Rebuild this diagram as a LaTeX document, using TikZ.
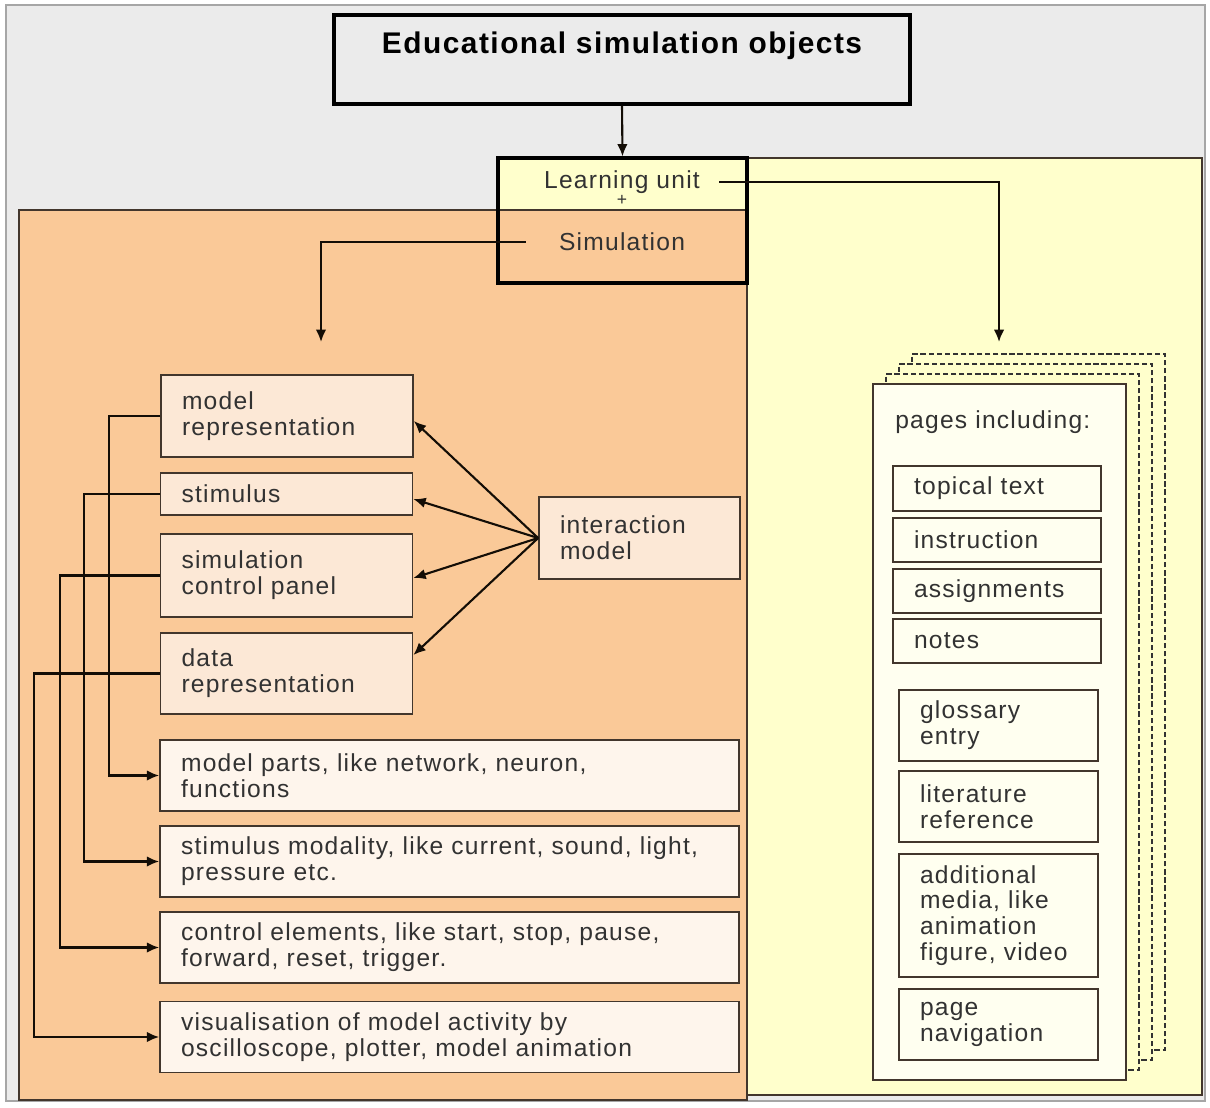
\documentclass[tikz,border=0pt]{standalone}
\usepackage{fontspec}
\setmainfont{Liberation Sans}[LetterSpace=5]
\usetikzlibrary{arrows.meta}

\definecolor{framegray}{RGB}{235,235,235}
\definecolor{simorange}{RGB}{250,201,152}
\definecolor{unityellow}{RGB}{255,255,204}
\definecolor{boxpeach}{RGB}{252,232,214}
\definecolor{boxcream}{RGB}{254,245,236}
\definecolor{pagecream}{RGB}{255,255,240}
\definecolor{edgebrown}{RGB}{66,54,44}
\definecolor{inkgray}{RGB}{50,50,50}

\tikzset{
    item/.style={draw=edgebrown, line width=1pt, inner xsep=0.42cm, inner ysep=0pt,
        align=left, text=inkgray, font=\fontsize{14}{14.7}\selectfont},
    leftbox/.style={item, fill=boxpeach, text width=4.2cm},
    widebox/.style={item, fill=boxcream, text width=10.74cm, minimum height=1.42cm},
    pagebox/.style={item, fill=pagecream, text width=#1},
    backpage/.style={draw=black!80, dash pattern=on 3pt off 1.6pt, line width=1.1pt,
        fill=unityellow, minimum width=5.06cm, minimum height=13.92cm},
    link/.style={draw=black!90!brown, line width=1.2pt, -{Latex[length=7pt,width=6pt]}},
    plain/.style={text=inkgray, font=\fontsize{14}{14.7}\selectfont}
}

\begin{document}
\begin{tikzpicture}[x=0.02cm, y=-0.02cm]
            \useasboundingbox (0,0) rectangle (1210,1107);

            \draw[gray!70, fill=framegray, line width=1.5pt] (6,5) rectangle (1205,1101);
            \draw[edgebrown, fill=unityellow, line width=0.8pt] (498,158) rectangle (1202,1095);
            \draw[edgebrown, fill=simorange, line width=0.8pt] (19,210) rectangle (747,1100);

            \node[draw=black, line width=1.8pt, fill=framegray, minimum width=11.52cm, inner ysep=0pt,
                text height=0.76cm, text depth=1.02cm, text=black,
                font=\fontsize{17}{20}\selectfont\bfseries] (title) at (622,59.5) {Educational simulation objects};

            \node[draw=black, line width=1.8pt, minimum width=4.98cm, minimum height=2.5cm] (unit) at (622.5,220.5) {};
            \node[plain] (learn) at (622,182) {Learning unit};
            \node[plain, font=\fontsize{10}{12}\selectfont] (plus) at (622,200) {+};
            \node[plain] (sim) at (622,242) {Simulation};

            \node[leftbox, minimum height=1.64cm] (modrep) at (287,416) {model\\representation};
            \node[leftbox, minimum height=0.84cm] (stim) at (286.5,494) {stimulus};
            \node[leftbox, minimum height=1.66cm] (ctrl) at (286.5,575.5) {simulation\\control panel};
            \node[leftbox, minimum height=1.62cm] (datarep) at (286.5,673.5) {data\\representation};
            \node[item, fill=boxpeach, text width=3.18cm, minimum height=1.64cm] (inter) at (639.5,538) {interaction\\model};

            \node[widebox] (parts) at (449.5,775.5) {model parts, like network, neuron,\\functions};
            \node[widebox] (modal) at (449.5,861.5) {stimulus modality, like current, sound, light,\\pressure etc.};
            \node[widebox] (elem) at (449.5,947.5) {control elements, like start, stop, pause,\\forward, reset, trigger.};
            \node[widebox] (visu) at (449.5,1037) {visualisation of model activity by\\oscilloscope, plotter, model animation};

            \node[backpage] (page3) at (1038.5,702) {};
            \node[backpage] (page2) at (1025.5,712) {};
            \node[backpage] (page1) at (1012.5,722) {};
            \node[draw=edgebrown, line width=1pt, fill=pagecream, minimum width=5.06cm, minimum height=13.92cm] (pages) at (999.5,732) {};
            \node[plain, anchor=west, inner sep=0pt] (pagelist) at (895,422) {pages including:};

            \node[pagebox=3.32cm, minimum height=0.9cm] (topical) at (997,488.5) {topical text};
            \node[pagebox=3.32cm, minimum height=0.88cm] (instr) at (997,540) {instruction};
            \node[pagebox=3.32cm, minimum height=0.88cm] (assign) at (997,591) {assignments};
            \node[pagebox=3.32cm, minimum height=0.88cm] (notes) at (997,641) {notes};
            \node[pagebox=3.14cm, minimum height=1.42cm] (gloss) at (998.5,725.5) {glossary\\entry};
            \node[pagebox=3.14cm, minimum height=1.42cm] (litref) at (998.5,806.5) {literature\\reference};
            \node[pagebox=3.14cm, minimum height=2.46cm] (media) at (998.5,915.5) {additional\\media, like\\animation\\figure, video};
            \node[pagebox=3.14cm, minimum height=1.42cm] (pagenav) at (998.5,1024.5) {page\\navigation};

            \coordinate (pagesin) at (999,342);
            \coordinate (partsin) at (321,342);

            \draw[link] (title.south) -- (unit.north);
            \draw[link] ([xshift=0.26cm]learn.east) -| (pagesin);
            \draw[link] ([xshift=-0.54cm]sim.west) -| (partsin);

            \draw[link] (inter.west) -- ([yshift=-0.1cm]modrep.east);
            \draw[link] (inter.west) -- ([yshift=-0.1cm]stim.east);
            \draw[link] (inter.west) -- ([yshift=-0.05cm]ctrl.east);
            \draw[link] (inter.west) -- ([yshift=0.37cm]datarep.east);

            \draw[link] (modrep.west) -- ++(-51,0) |- (parts.west);
            \draw[link] (stim.west) -- ++(-76,0) |- (modal.west);
            \draw[link] (ctrl.west) -- ++(-100,0) |- (elem.west);
            \draw[link] (datarep.west) -- ++(-126,0) |- (visu.west);
        \end{tikzpicture}
\end{document}
